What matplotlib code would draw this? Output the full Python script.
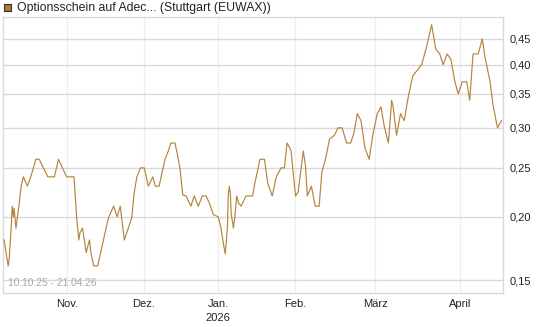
import matplotlib
matplotlib.use("Agg")
import matplotlib.pyplot as plt
from matplotlib.ticker import FixedLocator, NullLocator
from matplotlib.patches import Rectangle

plt.rcParams['font.family'] = ['Liberation Sans', 'DejaVu Sans']

# trading-session position and price (EUR)
session = [0.0, 1.1, 1.4, 1.9, 2.2, 2.5, 2.7, 3.2, 4.1, 4.6, 5.2, 6.3, 7.2, 7.9, 8.6, 9.5,
           11.8, 13.6, 14.7, 16.9, 18.9, 19.6, 20.2, 20.5, 21.2, 22.2, 22.8, 23.1, 23.4,
           24.2, 25.3, 28.2, 29.6, 30.6, 31.4, 32.5, 34.5, 35.2, 35.9, 36.9, 37.9, 39.0,
           40.2, 40.9, 41.9, 43.5, 44.4, 45.1, 46.2, 46.8, 47.6, 48.3, 49.2, 50.5, 51.4,
           52.5, 53.6, 54.6, 55.5, 56.6, 57.9, 58.6, 59.3, 59.8, 60.4, 60.6, 60.9, 61.2,
           61.4, 62.0, 62.4, 62.9, 63.4, 64.1, 65.4, 67.2, 67.8, 68.5, 69.2, 70.4, 71.3,
           72.5, 73.6, 74.9, 75.8, 76.5, 77.0, 77.6, 78.8, 79.5, 80.9, 81.5, 82.0, 83.1,
           84.1, 85.2, 85.9, 86.9, 88.0, 89.3, 90.3, 91.4, 92.6, 93.7, 94.6, 95.5, 96.5,
           97.6, 98.7, 99.8, 100.9, 101.9, 102.8, 103.9, 104.8, 105.2, 106.1, 107.2,
           108.2, 109.3, 110.5, 111.7, 112.9, 114.1, 115.6, 116.7, 117.8, 118.7, 119.8,
           120.8, 121.9, 122.8, 123.9, 125.1, 125.9, 126.8, 128.2, 129.3, 130.0, 131.4,
           132.2, 133.4, 134.5]
price = [0.18, 0.16, 0.166, 0.19, 0.21, 0.20, 0.208, 0.19, 0.213, 0.23, 0.24, 0.23, 0.24,
         0.25, 0.26, 0.26, 0.24, 0.24, 0.26, 0.24, 0.24, 0.20, 0.18, 0.186, 0.19, 0.17,
         0.177, 0.18, 0.171, 0.16, 0.16, 0.199, 0.21, 0.20, 0.21, 0.18, 0.199, 0.224,
         0.24, 0.25, 0.25, 0.23, 0.24, 0.23, 0.23, 0.26, 0.27, 0.28, 0.28, 0.267, 0.248,
         0.221, 0.22, 0.21, 0.22, 0.21, 0.22, 0.22, 0.213, 0.202, 0.20, 0.191, 0.177,
         0.169, 0.191, 0.221, 0.23, 0.221, 0.203, 0.19, 0.20, 0.22, 0.213, 0.21, 0.22,
         0.22, 0.233, 0.246, 0.26, 0.26, 0.233, 0.22, 0.24, 0.25, 0.25, 0.28, 0.276, 0.27,
         0.22, 0.224, 0.27, 0.252, 0.22, 0.23, 0.21, 0.21, 0.245, 0.26, 0.285, 0.29, 0.30,
         0.30, 0.28, 0.28, 0.293, 0.32, 0.31, 0.273, 0.26, 0.293, 0.32, 0.33, 0.302, 0.28,
         0.34, 0.33, 0.29, 0.32, 0.31, 0.346, 0.38, 0.39, 0.40, 0.43, 0.48, 0.43, 0.42,
         0.40, 0.42, 0.41, 0.37, 0.35, 0.37, 0.37, 0.34, 0.42, 0.42, 0.45, 0.415, 0.37,
         0.333, 0.30, 0.31]

month_pos = [17.0, 37.8, 57.8, 78.6, 100.3, 123.2]
month_labels = ['Nov.', 'Dez.', 'Jan.\n2026', 'Feb.', 'März', 'April']
y_ticks = [0.15, 0.20, 0.25, 0.30, 0.35, 0.40, 0.45]
y_labels = ['0,15', '0,20', '0,25', '0,30', '0,35', '0,40', '0,45']
legend_label = 'Optionsschein auf Adec... (Stuttgart (EUWAX))'
range_label = '10.10.25 - 21.04.26'

W, H = 545, 327
fig = plt.figure(figsize=(W / 100, H / 100), dpi=100)
ax = fig.add_axes([3 / W, 1 - 293 / H, 500 / W, 276 / H])

line_color = '#b5843c'
ax.plot(session, price, color=line_color, lw=0.85, zorder=3)

ax.set_yscale('log')
ax.set_ylim(0.1414, 0.497)
ax.set_xlim(-0.3, 134.9)

ax.yaxis.set_major_locator(FixedLocator(y_ticks))
ax.yaxis.set_minor_locator(NullLocator())
ax.set_yticklabels(y_labels)
ax.yaxis.tick_right()
ax.xaxis.set_major_locator(FixedLocator(month_pos))
ax.set_xticklabels(month_labels)

ax.tick_params(axis='y', length=0, pad=5, labelsize=8, labelcolor='#222222')
ax.tick_params(axis='x', length=0, pad=4, labelsize=8, labelcolor='#222222')
for lab in ax.get_xticklabels():
    lab.set_linespacing(1.5)

ax.grid(axis='y', color='#d9d9d9', lw=1.0)
ax.grid(axis='x', color='#eeeeee', lw=1.0)
ax.set_axisbelow(True)
for side in ['left', 'right', 'top', 'bottom']:
    ax.spines[side].set_color('#d9d9d9')
    ax.spines[side].set_linewidth(1.0)

ax.text(5 / 500, 5 / 276, range_label, transform=ax.transAxes, fontsize=7.4,
        color='#a0a8b4', ha='left', va='bottom')

# legend marker and label at top
fig.patches.append(Rectangle((3.5 / W, 1 - 11 / H), 7.5 / W, 7.5 / H,
                             transform=fig.transFigure, facecolor='#a67b48',
                             edgecolor='#3a2a18', lw=0.8))
fig.text(17 / W, 1 - 7.5 / H, legend_label, fontsize=8.8, color='#222222',
         ha='left', va='center')

fig.savefig('out.png', dpi=100)
